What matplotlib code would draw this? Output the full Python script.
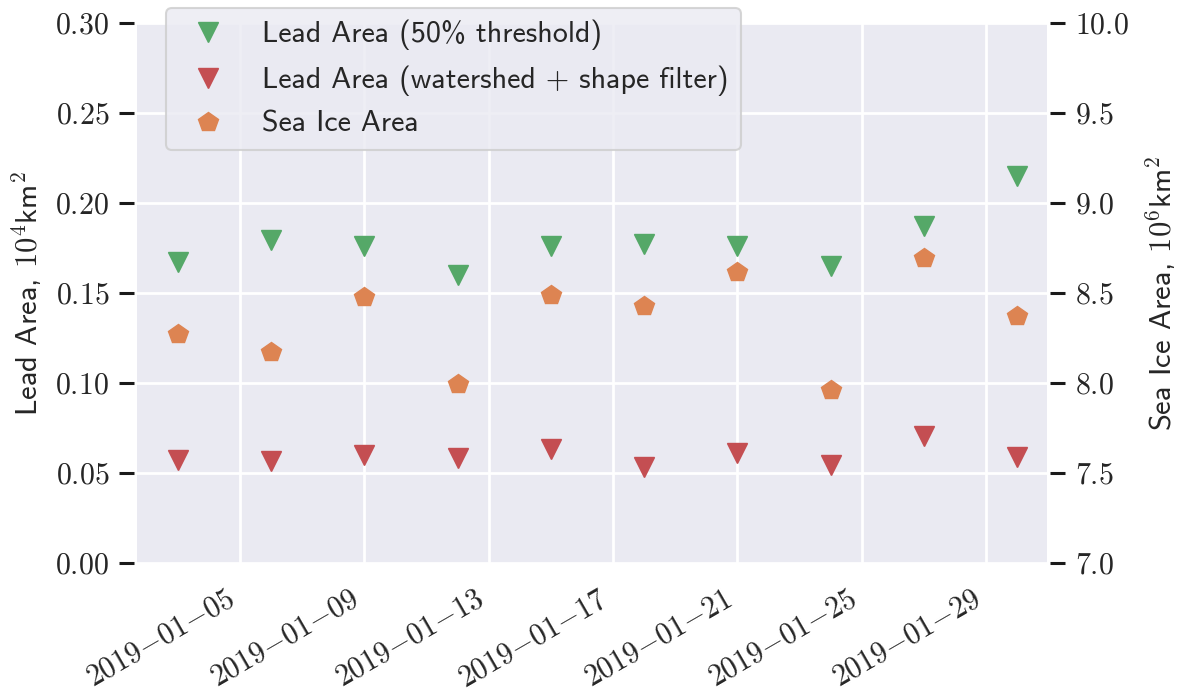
import datetime as dt
import matplotlib
matplotlib.use("Agg")
import matplotlib.pyplot as plt
import matplotlib.dates as mdates
from matplotlib.ticker import FuncFormatter, MultipleLocator
import seaborn as sns

# Observation dates and measured areas
dates = ["2019-01-03", "2019-01-06", "2019-01-09", "2019-01-12", "2019-01-15",
         "2019-01-18", "2019-01-21", "2019-01-24", "2019-01-27", "2019-01-30"]
lead_threshold = [0.1676, 0.1796, 0.1761, 0.1603, 0.1763,
                  0.1776, 0.1761, 0.1653, 0.1872, 0.2150]
lead_watershed = [0.0574, 0.0568, 0.0602, 0.0585, 0.0635,
                  0.0535, 0.0613, 0.0544, 0.0705, 0.0591]
sea_ice_area = [8.275, 8.173, 8.477, 7.997, 8.488,
                8.427, 8.616, 7.964, 8.694, 8.375]

label_threshold = "Lead Area (50% threshold)"
label_watershed = "Lead Area (watershed + shape filter)"
label_ice = "Sea Ice Area"
ylabel_left = r"Lead Area, $10^4$km$^2$"
ylabel_right = r"Sea Ice Area, $10^6$km$^2$"

sns.set_theme(style="darkgrid")
plt.rcParams["mathtext.fontset"] = "cm"
plt.rcParams["font.family"] = ["cmss10", "DejaVu Sans"]
plt.rcParams["axes.unicode_minus"] = False
plt.rcParams["grid.linewidth"] = 2.0

green, red, orange = "#55A868", "#C44E52", "#DD8452"
text_color = "#262626"
x = [dt.datetime.strptime(d, "%Y-%m-%d") for d in dates]

fig = plt.figure(figsize=(11.84, 7.0), dpi=100)
ax = fig.add_axes([137 / 1184, 1 - 563.3 / 700, 910 / 1184, 540 / 700])
ax2 = ax.twinx()

ms = 14.5
h1, = ax.plot(x, lead_threshold, linestyle="none", marker="v", ms=ms,
              color=green, label=label_threshold)
h2, = ax.plot(x, lead_watershed, linestyle="none", marker="v", ms=ms,
              color=red, label=label_watershed)
h3, = ax2.plot(x, sea_ice_area, linestyle="none", marker="p", ms=ms,
               color=orange, label=label_ice)

ax.set_ylim(0, 0.30)
ax2.set_ylim(7.0, 10.0)
ax.yaxis.set_major_locator(MultipleLocator(0.05))
ax2.yaxis.set_major_locator(MultipleLocator(0.5))
ax.yaxis.set_major_formatter(FuncFormatter(lambda v, p: r"$%.2f$" % v))
ax2.yaxis.set_major_formatter(FuncFormatter(lambda v, p: r"$%.1f$" % v))
ax2.grid(False)

ax.set_xlim(dt.datetime(2019, 1, 1, 16, 30), dt.datetime(2019, 1, 30, 23, 0))
ax.xaxis.set_major_locator(mdates.DayLocator(bymonthday=[5, 9, 13, 17, 21, 25, 29]))
ax.xaxis.set_major_formatter(mdates.DateFormatter(r"$%Y{-}%m{-}%d$"))

for a in (ax, ax2):
    for s in a.spines.values():
        s.set_visible(False)
ax.spines["left"].set_position(("outward", 2.5))
ax2.spines["right"].set_position(("outward", 2.5))

ax.tick_params(axis="y", which="major", left=True, length=10.5, width=2.2,
               color="#1a1a1a", pad=7, labelsize=21.5, labelcolor=text_color)
ax2.tick_params(axis="y", which="major", right=True, length=10.5, width=2.2,
                color="#1a1a1a", pad=7, labelsize=21.5, labelcolor=text_color)
ax.tick_params(axis="x", which="major", length=0, pad=16, labelsize=21.5,
               labelcolor=text_color)
for lbl in ax.get_xticklabels():
    lbl.set_rotation(30)
    lbl.set_ha("right")

ax.set_ylabel(ylabel_left, fontsize=22, color=text_color, labelpad=8)
ax2.set_ylabel(ylabel_right, fontsize=22, color=text_color, labelpad=10)

leg = ax.legend(handles=[h1, h2, h3], loc="upper left",
                bbox_to_anchor=(166 / 1184, 1 - 8 / 700),
                bbox_transform=fig.transFigure, borderaxespad=0,
                fontsize=21.6, frameon=True, framealpha=0.8)
leg.get_frame().set_edgecolor("0.8")
leg.get_frame().set_linewidth(1.5)
leg.set_zorder(10)

fig.savefig("out.png", dpi=100)
